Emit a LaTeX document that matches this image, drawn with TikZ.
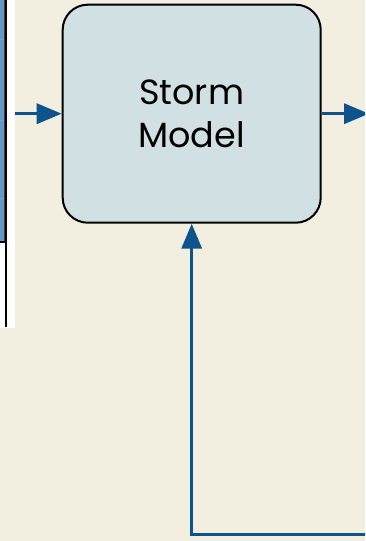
\documentclass[tikz,border=0pt]{standalone}
\usepackage{fontspec}
\setmainfont{Poppins}
\usetikzlibrary{arrows.meta}
\definecolor{bgcol}{RGB}{242,239,224}
\definecolor{boxfill}{RGB}{209,224,227}
\definecolor{flowblue}{RGB}{14,84,140}
\definecolor{tableblue}{RGB}{100,152,198}
\definecolor{sepgray}{RGB}{130,160,185}
\tikzset{
  modelbox/.style={draw=black, line width=2pt, fill=boxfill, rounded corners=25pt,
    minimum width=258pt, minimum height=218pt, align=center,
    font=\fontsize{35}{42.5}\selectfont, inner sep=0pt},
  flow/.style={draw=flowblue, line width=3.4pt,
    -{Triangle[length=25pt,width=20pt]}},
  panel/.style={fill=white, draw=none, minimum width=80pt, minimum height=340pt, inner sep=0pt},
}
\begin{document}
\begin{tikzpicture}[x=1pt,y=-1pt]
\useasboundingbox (0,0) rectangle (365,541);
\fill[bgcol] (0,0) rectangle (365,541);
\clip (0,0) rectangle (365,541);
% partial panel at the left edge
\node[panel, anchor=south east] (panel) at (15,328) {};
\fill[tableblue] (-60,-10) rectangle (4.3,241);
\foreach \yy in {39,120,198}
  \draw[sepgray, line width=0.8pt] (-60,\yy) -- (4.3,\yy);
\draw[black!60!tableblue, line width=0.5pt] (3.9,-10) -- (3.9,241);
\draw[black, line width=2.2pt] (5.6,-10) -- (5.6,327);
\draw[black, line width=2pt] (-60,242) -- (5.6,242);
% main box
\node[modelbox] (model) at (191.7,113.7) {Storm\\Model};
% connectors
\coordinate (rightend) at (369,113.7);
\coordinate (loopstart) at (372,534.5);
\draw[flow] (panel.east |- model.west) -- (model.west);
\draw[flow] (model.east) -- (rightend);
\draw[flow] (loopstart) -| (model.south);
\end{tikzpicture}
\end{document}
